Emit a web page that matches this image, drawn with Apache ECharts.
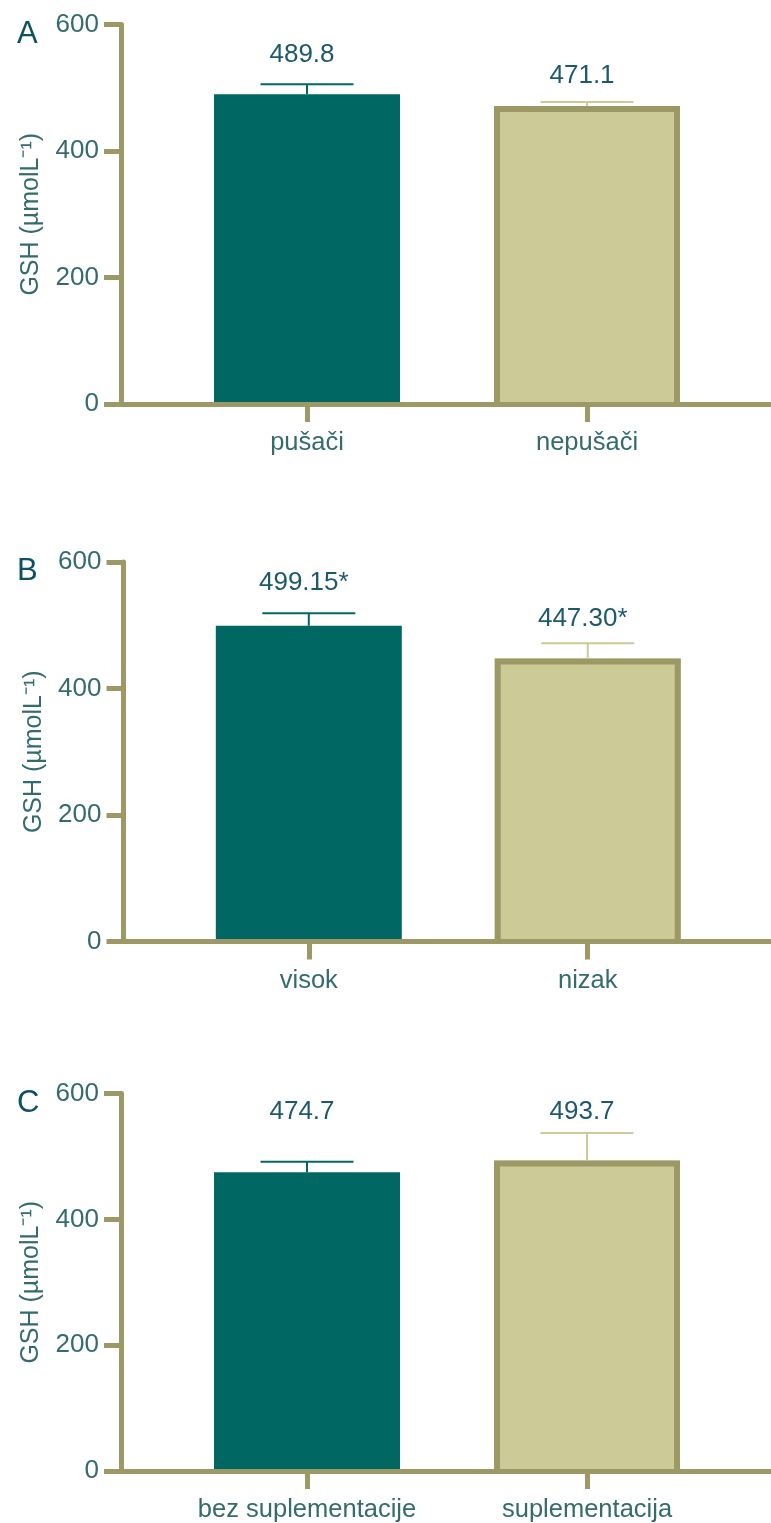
<!DOCTYPE html>
<html>
<head>
<meta charset="utf-8">
<script src="https://cdn.jsdelivr.net/npm/echarts@6/dist/echarts.min.js"></script>
<style>
html,body{margin:0;padding:0;background:#fff;}
#c{width:771px;height:1523px;}
</style>
</head>
<body>
<div id="c"></div>
<script>
// ---- data ----
const panelLetters = ['A', 'B', 'C'];
const categoriesA = ['pušači', 'nepušači'];
const valuesA = [489.8, 471.1];
const errorsA = [15.7, 6.4];
const labelsA = ['489.8', '471.1'];
const labelYA = [552, 519];

const categoriesB = ['visok', 'nizak'];
const valuesB = [499.15, 447.30];
const errorsB = [19.8, 24.2];
const labelsB = ['499.15*', '447.30*'];
const labelYB = [567, 510];

const categoriesC = ['bez suplementacije', 'suplementacija'];
const valuesC = [474.7, 493.7];
const errorsC = [17, 43.4];
const labelsC = ['474.7', '493.7'];
const labelYC = [571, 571];

const yTicks = [0, 200, 400, 600];
const yAxisName = 'GSH (µmolL⁻¹)';

// ---- styles ----
const DARK = '#006763';
const LIGHT = '#cccb98';
const OLIVE = '#9c9966';
const TICK_TXT = '#346b6d';
const VAL_TXT = '#1c596a';
const LETTER = '#0e5064';
const FONT = '"Liberation Sans", Arial, sans-serif';

const panels = [
  {cats: categoriesA, vals: valuesA, errs: errorsA, labels: labelsA, labelY: labelYA, top: 24.5, left: 121},
  {cats: categoriesB, vals: valuesB, errs: errorsB, labels: labelsB, labelY: labelYB, top: 562, left: 123.5},
  {cats: categoriesC, vals: valuesC, errs: errorsC, labels: labelsC, labelY: labelYC, top: 1093.5, left: 121}
];
const GRID_H = 379.5;
const XMIN = 0.3357, XMAX = 2.657;

const grid = [], xAxis = [], yAxis = [], series = [], title = [];

panels.forEach((p, i) => {
  grid.push({left: p.left, right: 0, top: p.top, height: GRID_H, containLabel: false});
  title.push({
    text: panelLetters[i], left: 12, top: p.top - 11,
    textStyle: {fontFamily: FONT, fontSize: 31, fontWeight: 'normal', color: LETTER}
  });
  const cats = p.cats;
  xAxis.push({
    type: 'value', gridIndex: i, min: XMIN, max: XMAX, z: 10,
    splitLine: {show: false},
    axisLine: {show: true, lineStyle: {color: OLIVE, width: 5}},
    axisTick: {show: true, customValues: [1, 2], length: 18, lineStyle: {color: OLIVE, width: 5}},
    axisLabel: {
      customValues: [1, 2], margin: 26,
      formatter: v => cats[Math.round(v) - 1] || '',
      fontFamily: FONT, fontSize: 25.5, color: TICK_TXT
    }
  });
  yAxis.push({
    type: 'value', gridIndex: i, min: 0, max: 600, interval: 200, z: 10,
    name: yAxisName, nameLocation: 'middle', nameGap: 77,
    nameTextStyle: {fontFamily: FONT, fontSize: 25, color: TICK_TXT},
    splitLine: {show: false},
    axisLine: {show: true, lineStyle: {color: OLIVE, width: 5}},
    axisTick: {show: true, length: 17, lineStyle: {color: OLIVE, width: 5}},
    axisLabel: {margin: 22, fontFamily: FONT, fontSize: 26, color: TICK_TXT}
  });
  const data = p.vals.map((v, k) => [k + 1, v, p.errs[k], p.labelY[k]]);
  const labels = p.labels;
  series.push({
    type: 'custom', xAxisIndex: i, yAxisIndex: i,
    encode: {x: 0, y: 1},
    data: data,
    renderItem: function (params, api) {
      const k = params.dataIndex;
      const x = api.value(0), v = api.value(1), e = api.value(2), ly = api.value(3);
      const top = api.coord([x, v]);
      const base = api.coord([x, 0]);
      const cap = api.coord([x, v + e]);
      const lab = api.coord([x, ly]);
      const hw = 93;
      const children = [];
      if (k === 0) {
        children.push({type: 'rect', shape: {x: top[0] - hw, y: top[1], width: hw * 2, height: base[1] - top[1]},
          style: {fill: DARK}});
      } else {
        children.push({type: 'rect', shape: {x: top[0] - hw, y: top[1], width: hw * 2, height: base[1] - top[1]},
          style: {fill: LIGHT}});
        children.push({type: 'polyline', shape: {points: [
            [top[0] - hw + 3, base[1]], [top[0] - hw + 3, top[1] + 3],
            [top[0] + hw - 3, top[1] + 3], [top[0] + hw - 3, base[1]]]},
          style: {fill: null, stroke: OLIVE, lineWidth: 6, lineJoin: 'miter'}});
      }
      const ec = k === 0 ? DARK : LIGHT;
      children.push({type: 'line', shape: {x1: top[0], y1: top[1], x2: top[0], y2: cap[1]},
        style: {stroke: ec, lineWidth: 2}});
      children.push({type: 'line', shape: {x1: top[0] - hw / 2, y1: cap[1], x2: top[0] + hw / 2, y2: cap[1]},
        style: {stroke: ec, lineWidth: 2}});
      children.push({type: 'text', x: lab[0] - 5, y: lab[1],
        style: {text: labels[k], align: 'center', verticalAlign: 'middle',
          font: '26px ' + FONT, fill: VAL_TXT}});
      return {type: 'group', children: children};
    }
  });
});

const chart = echarts.init(document.getElementById('c'), null, {renderer: 'canvas'});
chart.setOption({
  animation: false,
  backgroundColor: '#ffffff',
  title: title,
  grid: grid,
  xAxis: xAxis,
  yAxis: yAxis,
  series: series
});
</script>
</body>
</html>
